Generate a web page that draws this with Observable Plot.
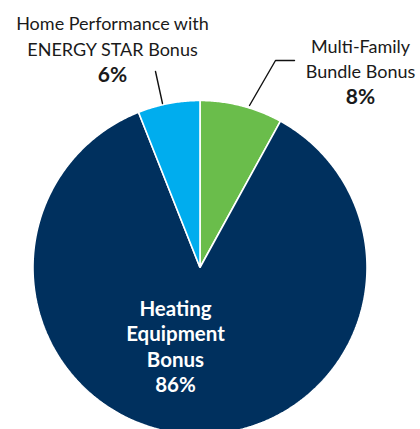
<!DOCTYPE html>
<html>
<head>
<meta charset="utf-8">
<script src="https://cdn.jsdelivr.net/npm/d3@7"></script>
<script src="https://cdn.jsdelivr.net/npm/@observablehq/plot@0.6"></script>
<style>
  html, body { margin: 0; padding: 0; background: #fff; }
  #chart svg { display: block; }
</style>
</head>
<body>
<div id="chart"></div>
<script>
// ---- data ----
const categories = ["Multi-Family Bundle Bonus", "Heating Equipment Bonus", "Home Performance with ENERGY STAR Bonus"];
const shares = [8, 86, 6];
const colors = ["#6abd4b", "#00305e", "#00adee"];
const labelLines = [
  ["Multi-Family", "Bundle Bonus"],
  ["Heating", "Equipment", "Bonus"],
  ["Home Performance with", "ENERGY STAR Bonus"]
];

// ---- layout (pixels within the 420x429 frame) ----
const W = 420, H = 429;
const CX = 199.5, CY = 267, R = 167;
const toX = px => (px - CX) / R;
const toY = py => (CY - py) / R;
const labelLayout = [
  {x: 360, base: 52, step: 25.5},   // Multi-Family
  {x: 175, base: 315, step: 25.5},  // Heating
  {x: 112, base: 29, step: 26}      // Home Performance
];
const leaders = [
  [[294, 60], [275, 60], [249, 105]],
  null,
  [[155, 71], [162, 103]]
];

// ---- pie geometry from data ----
const arcs = d3.pie().sort(null).value(d => d)(shares);
const slicePts = [];
arcs.forEach((a, i) => {
  slicePts.push({cat: categories[i], x: 0, y: 0});
  const n = Math.max(8, Math.ceil((a.endAngle - a.startAngle) / (Math.PI / 360)));
  for (let k = 0; k <= n; k++) {
    const t = a.startAngle + (a.endAngle - a.startAngle) * k / n;
    slicePts.push({cat: categories[i], x: Math.sin(t), y: Math.cos(t)});
  }
});

const textRows = [];
labelLines.forEach((lines, i) => {
  const L = labelLayout[i];
  const inner = i === 1;
  lines.forEach((s, j) => textRows.push({text: s, x: toX(L.x), y: toY(L.base + j * L.step), bold: inner, inner, pct: false}));
  textRows.push({text: shares[i] + "%", x: toX(L.x), y: toY(L.base + lines.length * L.step), bold: true, inner, pct: true});
});

const leaderPts = [];
leaders.forEach((pts, i) => {
  if (!pts) return;
  pts.forEach(p => leaderPts.push({cat: categories[i], x: toX(p[0]), y: toY(p[1])}));
});

const chart = Plot.plot({
  width: W,
  height: H,
  margin: 0,
  x: {domain: [toX(0), toX(W)], axis: null},
  y: {domain: [toY(H), toY(0)], axis: null},
  color: {domain: categories, range: colors},
  style: {fontFamily: "Lato, 'Open Sans', sans-serif", background: "#fff"},
  marks: [
    Plot.line(slicePts, {x: "x", y: "y", z: "cat", fill: "cat", stroke: "white", strokeWidth: 1.6, curve: "linear-closed", strokeLinejoin: "miter"}),
    Plot.line(leaderPts, {x: "x", y: "y", z: "cat", stroke: "#111", strokeWidth: 1.4}),
    Plot.text(textRows.filter(r => !r.bold), {x: "x", y: "y", text: "text", lineAnchor: "bottom", fontSize: 18, fill: "#1a1a1a"}),
    Plot.text(textRows.filter(r => r.bold && !r.inner), {x: "x", y: "y", text: "text", lineAnchor: "bottom", fontSize: 21, fontWeight: "bold", fill: "#1a1a1a"}),
    Plot.text(textRows.filter(r => r.inner), {x: "x", y: "y", text: "text", lineAnchor: "bottom", fontSize: 20.5, fontWeight: "bold", fill: "white"})
  ]
});
document.getElementById("chart").appendChild(chart);
</script>
</body>
</html>
